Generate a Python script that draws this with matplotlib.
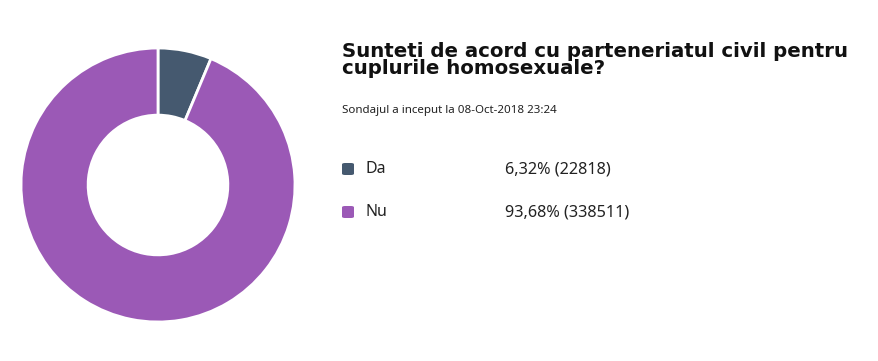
import matplotlib.pyplot as plt
from matplotlib.patches import FancyBboxPatch

labels = ['Da', 'Nu']
percents = [6.32, 93.68]
votes = [22818, 338511]
colors = ['#45596f', '#9b59b6']

title = 'Sunteti de acord cu parteneriatul civil pentru\ncuplurile homosexuale?'
subtitle = 'Sondajul a inceput la 08-Oct-2018 23:24'

plt.rcParams['font.family'] = ['Noto Sans', 'DejaVu Sans']

fig = plt.figure(figsize=(8.79, 3.61), dpi=100)
fig.patch.set_facecolor('white')

# donut
ax = fig.add_axes([21 / 879, 39 / 361, 274 / 879, 274 / 361])
ax.pie(percents, colors=colors, startangle=90, counterclock=False,
       radius=1, wedgeprops=dict(width=0.49, edgecolor='white', linewidth=2))
ax.set_xlim(-1, 1)
ax.set_ylim(-1, 1)
ax.set_aspect('auto')
ax.axis('off')

W, H = 879, 361
def fx(x):
    return x / W
def fy(y):
    return 1 - y / H

fig.text(fx(342), fy(42), title, fontsize=14.2, fontweight='bold',
         family=['DejaVu Sans'],
         color='#111111', va='top', ha='left', linespacing=0.84)
fig.text(fx(342), fy(110), subtitle, fontsize=8.3, color='#222222',
         va='center', ha='left')

ys = [169, 212]
for lab, p, v, c, y in zip(labels, percents, votes, colors, ys):
    box = FancyBboxPatch((fx(342), fy(y) - 6 / H), 12 / W, 12 / H,
                         boxstyle='round,pad=0,rounding_size=0.0035',
                         transform=fig.transFigure, facecolor=c,
                         edgecolor='none')
    fig.patches.append(box)
    fig.text(fx(366), fy(y), lab, fontsize=11.5, color='#222222',
             va='center', ha='left')
    fig.text(fx(505), fy(y), f"{p:.2f}".replace('.', ',') + f"% ({v})",
             fontsize=11.7, color='#222222', va='center', ha='left')

fig.savefig('out.png', dpi=100)
